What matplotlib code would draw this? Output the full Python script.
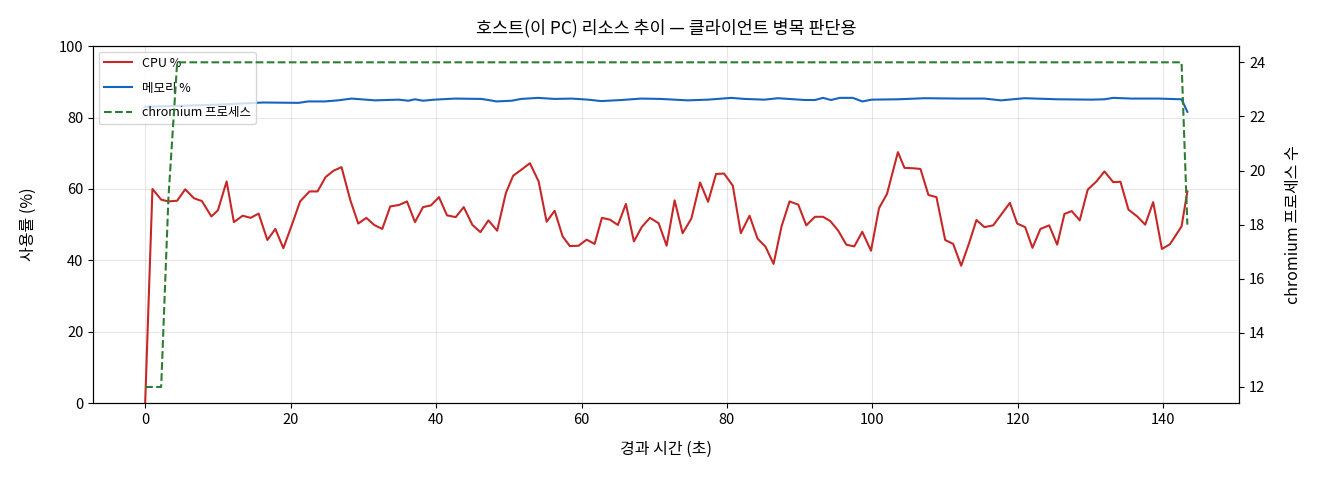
import matplotlib
matplotlib.use("Agg")
import matplotlib.pyplot as plt

plt.rcParams["font.family"] = ["Noto Sans CJK KR", "DejaVu Sans"]
plt.rcParams["axes.unicode_minus"] = False

# 샘플 시각 (초) 과 CPU 사용률
t = [0, 1.0, 2.2, 3.2, 4.4, 5.5, 6.7, 7.8, 9.1, 10.0, 11.2, 12.2, 13.4, 14.5, 15.6,
     16.8, 17.9, 19.0, 20.2, 21.3, 22.6, 23.7, 24.8, 25.9, 27.0, 28.2, 29.3, 30.4,
     31.5, 32.6, 33.7, 34.9, 36.0, 37.1, 38.2, 39.3, 40.4, 41.5, 42.7, 43.8, 45.0,
     46.1, 47.2, 48.4, 49.6, 50.6, 51.8, 52.9, 54.1, 55.2, 56.3, 57.4, 58.4, 59.6,
     60.7, 61.8, 62.8, 63.9, 65.0, 66.1, 67.2, 68.3, 69.4, 70.6, 71.7, 72.8, 73.9,
     75.1, 76.3, 77.4, 78.5, 79.6, 80.8, 81.9, 83.1, 84.2, 85.3, 86.4, 87.5, 88.6,
     89.8, 90.9, 92.1, 93.2, 94.2, 95.3, 96.4, 97.5, 98.6, 99.8, 100.9, 102.0,
     103.5, 104.4, 105.5, 106.6, 107.7, 108.8, 110.0, 111.1, 112.2, 113.3, 114.3,
     115.4, 116.6, 117.7, 118.9, 119.9, 121.0, 122.0, 123.1, 124.3, 125.4, 126.4,
     127.4, 128.5, 129.6, 130.8, 131.9, 133.1, 134.1, 135.2, 136.4, 137.5, 138.6,
     139.8, 140.9, 142.5, 143.3]
cpu = [0, 60.0, 57.0, 56.5, 56.7, 59.9, 57.4, 56.6, 52.3, 54.0, 62.1, 50.7, 52.5, 51.9,
       53.1, 45.7, 48.8, 43.4, 50.1, 56.5, 59.3, 59.3, 63.3, 65.1, 66.1, 56.9, 50.3,
       51.9, 49.9, 48.8, 55.1, 55.5, 56.5, 50.7, 54.9, 55.4, 57.7, 52.6, 52.1, 54.9,
       49.9, 47.9, 51.2, 48.3, 58.9, 63.7, 65.5, 67.2, 62.1, 50.8, 53.9, 46.7, 44.0,
       44.1, 45.8, 44.6, 51.9, 51.4, 49.9, 55.8, 45.3, 49.4, 51.9, 50.4, 44.1, 56.8,
       47.6, 51.7, 61.8, 56.4, 64.2, 64.3, 60.9, 47.6, 52.5, 46.1, 43.8, 39.0, 49.5,
       56.5, 55.6, 49.8, 52.2, 52.2, 51.0, 48.3, 44.4, 43.9, 48.0, 42.7, 54.6, 58.6,
       70.3, 65.9, 65.8, 65.6, 58.3, 57.7, 45.7, 44.6, 38.5, 44.9, 51.3, 49.3, 49.8,
       52.8, 56.1, 50.3, 49.3, 43.5, 48.8, 49.8, 44.4, 53.0, 53.8, 51.2, 59.8, 62.1,
       64.9, 61.9, 62.0, 54.2, 52.3, 50.0, 56.3, 43.2, 44.5, 49.5, 59.3]

# 메모리 사용률
mem_t = [0, 5, 10, 16.2, 21.1, 22.4, 24.7, 26.5, 28.4, 31.6, 34.8, 36.2, 37.1, 38.2,
         39.8, 42.6, 46.2, 47.2, 48.3, 50.4, 51.7, 54.0, 56.3, 58.6, 60.9, 62.7, 65.5,
         68.2, 70.9, 74.6, 77.4, 80.6, 82.4, 85.2, 87.0, 90.7, 92.1, 93.2, 94.3, 95.5,
         97.3, 98.6, 99.9, 103.5, 107.2, 111.8, 115.4, 117.7, 120.9, 125.5, 130.1,
         131.9, 133.1, 135.6, 139.3, 142.5, 143.3]
mem = [83.0, 83.3, 83.6, 84.2, 84.1, 84.5, 84.5, 84.8, 85.3, 84.8, 85.0, 84.7, 85.1,
       84.7, 85.0, 85.3, 85.2, 84.9, 84.5, 84.7, 85.2, 85.5, 85.2, 85.3, 85.0, 84.6,
       84.9, 85.3, 85.2, 84.8, 85.0, 85.5, 85.2, 85.0, 85.4, 84.9, 84.9, 85.5, 84.9,
       85.5, 85.5, 84.5, 85.0, 85.1, 85.4, 85.3, 85.3, 84.8, 85.4, 85.1, 85.0, 85.1,
       85.5, 85.3, 85.3, 85.1, 81.6]

# chromium 프로세스 수
proc_t = [0, 1.0, 2.2, 3.2, 4.4, 142.5, 143.3]
proc = [12, 12, 12, 19, 24, 24, 18]

fig, ax1 = plt.subplots(figsize=(13.2, 4.8), dpi=100)
fig.subplots_adjust(left=0.0705, right=0.939, bottom=0.16, top=0.904)

l1, = ax1.plot(t, cpu, color="#c62828", lw=1.5, label="CPU %")
l2, = ax1.plot(mem_t, mem, color="#1565c0", lw=1.5, label="메모리 %")
ax1.set_ylim(0, 100)
ax1.set_xlabel("경과 시간 (초)", fontsize=11.5, labelpad=10)
ax1.set_ylabel("사용률 (%)", fontsize=11.5, labelpad=16)
ax1.grid(True, alpha=0.3)
ax1.tick_params(labelsize=10.5)

ax2 = ax1.twinx()
l3, = ax2.plot(proc_t, proc, color="#2e7d32", lw=1.5, ls="--", label="chromium 프로세스")
ax2.set_ylabel("chromium 프로세스 수", fontsize=11.5, labelpad=14)
ax2.tick_params(labelsize=10.5)

ax1.legend(handles=[l1, l2, l3], loc="upper left", fontsize=9,
           labelspacing=0.95, handlelength=2.25, borderaxespad=0.45)
ax1.set_title("호스트(이 PC) 리소스 추이 — 클라이언트 병목 판단용", fontsize=12.5, pad=9)

fig.savefig("out.png", dpi=100)
